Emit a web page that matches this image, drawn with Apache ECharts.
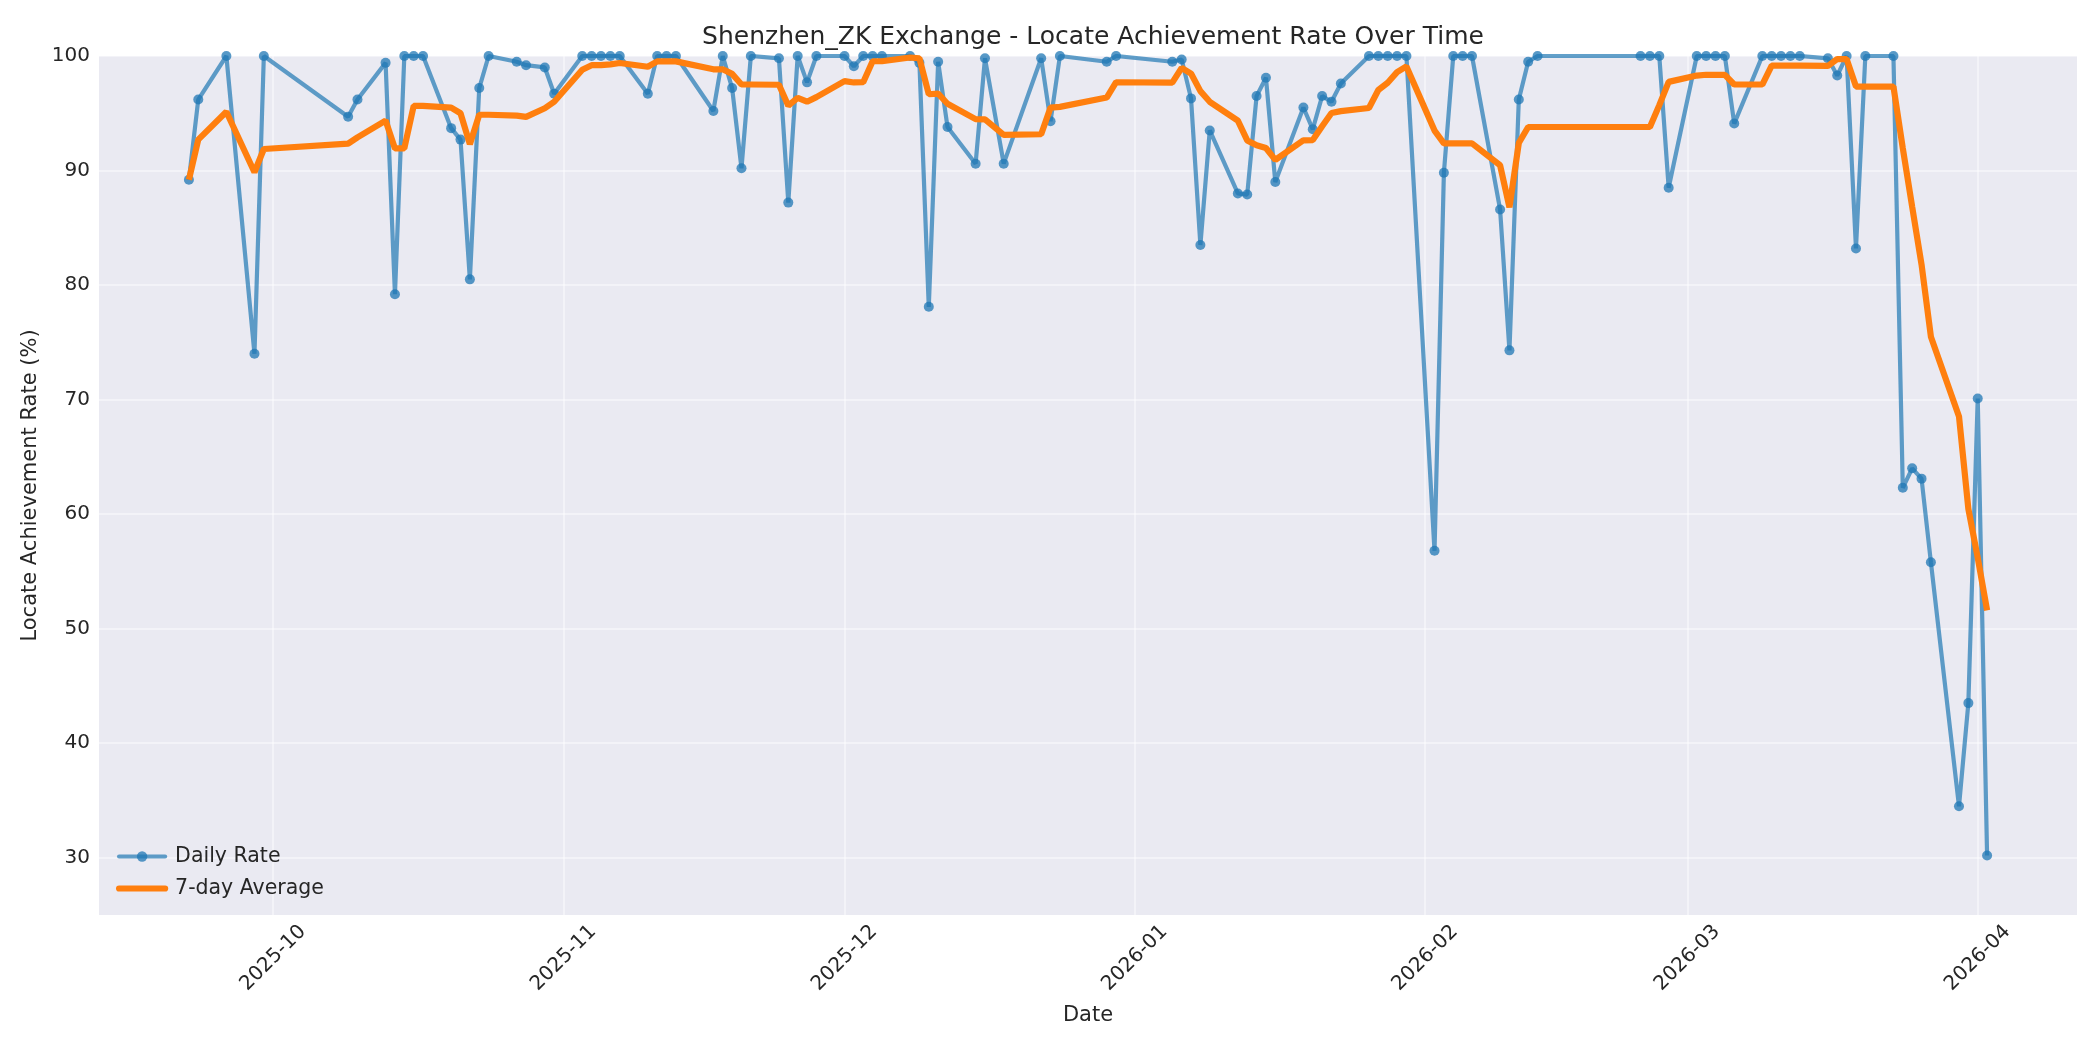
<!DOCTYPE html>
<html>
<head>
<meta charset="utf-8">
<title>Shenzhen_ZK Exchange - Locate Achievement Rate Over Time</title>
<script src="https://cdn.jsdelivr.net/npm/echarts@6/dist/echarts.min.js"></script>
<style>
  html, body { margin: 0; padding: 0; background: #ffffff; }
  #main { width: 2100px; height: 1050px; }
</style>
</head>
<body>
<div id="main"></div>
<script>
// trading days shown in the chart
const dates = [
  '2025-09-22', '2025-09-23', '2025-09-26', '2025-09-29', '2025-09-30',
  '2025-10-09', '2025-10-10', '2025-10-13', '2025-10-14', '2025-10-15', '2025-10-16', '2025-10-17',
  '2025-10-20', '2025-10-21', '2025-10-22', '2025-10-23', '2025-10-24',
  '2025-10-27', '2025-10-28', '2025-10-30', '2025-10-31',
  '2025-11-03', '2025-11-04', '2025-11-05', '2025-11-06', '2025-11-07',
  '2025-11-10', '2025-11-11', '2025-11-12', '2025-11-13',
  '2025-11-17', '2025-11-18', '2025-11-19', '2025-11-20', '2025-11-21',
  '2025-11-24', '2025-11-25', '2025-11-26', '2025-11-27', '2025-11-28',
  '2025-12-01', '2025-12-02', '2025-12-03', '2025-12-04', '2025-12-05',
  '2025-12-08', '2025-12-09', '2025-12-10', '2025-12-11', '2025-12-12',
  '2025-12-15', '2025-12-16', '2025-12-18',
  '2025-12-22', '2025-12-23', '2025-12-24', '2025-12-29', '2025-12-30',
  '2026-01-05', '2026-01-06', '2026-01-07', '2026-01-08', '2026-01-09',
  '2026-01-12', '2026-01-13', '2026-01-14', '2026-01-15', '2026-01-16',
  '2026-01-19', '2026-01-20', '2026-01-21', '2026-01-22', '2026-01-23',
  '2026-01-26', '2026-01-27', '2026-01-28', '2026-01-29', '2026-01-30',
  '2026-02-02', '2026-02-03', '2026-02-04', '2026-02-05', '2026-02-06',
  '2026-02-09', '2026-02-10', '2026-02-11', '2026-02-12', '2026-02-13',
  '2026-02-24', '2026-02-25', '2026-02-26', '2026-02-27',
  '2026-03-02', '2026-03-03', '2026-03-04', '2026-03-05', '2026-03-06',
  '2026-03-09', '2026-03-10', '2026-03-11', '2026-03-12', '2026-03-13',
  '2026-03-16', '2026-03-17', '2026-03-18', '2026-03-19', '2026-03-20',
  '2026-03-23', '2026-03-24', '2026-03-25', '2026-03-26', '2026-03-27',
  '2026-03-30', '2026-03-31', '2026-04-01', '2026-04-02'
];

// daily locate achievement rate (%)
const dailyRate = [
  89.2, 96.2, 100, 74.0, 100,
  94.7, 96.2, 99.4, 79.2, 100, 100, 100,
  93.7, 92.7, 80.5, 97.2, 100,
  99.5, 99.2, 99.0, 96.7,
  100, 100, 100, 100, 100,
  96.7, 100, 100, 100,
  95.2, 100, 97.2, 90.2, 100,
  99.8, 87.2, 100, 97.7, 100,
  100, 99.1, 100, 100, 100,
  100, 99.4, 78.1, 99.5, 93.8,
  90.6, 99.8, 90.6,
  99.8, 94.3, 100, 99.5, 100,
  99.5, 99.7, 96.3, 83.5, 93.5,
  88.0, 87.9, 96.5, 98.1, 89.0,
  95.5, 93.6, 96.5, 96.0, 97.6,
  100, 100, 100, 100, 100,
  56.8, 89.8, 100, 100, 100,
  86.6, 74.3, 96.2, 99.5, 100,
  100, 100, 100, 88.5,
  100, 100, 100, 100, 94.1,
  100, 100, 100, 100, 100,
  99.8, 98.3, 100, 83.2, 100,
  100, 62.3, 64.0, 63.1, 55.8,
  34.5, 43.5, 70.1, 30.2
];

// 7-day average as drawn (%)
const avg7 = [
  89.2, 92.7, 95.13, 89.85, 91.88,
  92.35, 92.9, 94.36, 91.93, 91.93, 95.64, 95.64,
  95.5, 95.0, 92.3, 94.87, 94.87,
  94.8, 94.69, 95.44, 96.01,
  98.8, 99.2, 99.2, 99.27, 99.39,
  99.06, 99.53, 99.53, 99.53,
  98.84, 98.84, 98.44, 97.51, 97.51,
  97.49, 95.66, 96.34, 96.01, 96.41,
  97.81, 97.69, 97.71, 99.54, 99.54,
  99.87, 99.79, 96.66, 96.71, 95.83,
  94.49, 94.46, 93.11,
  93.17, 95.49, 95.56, 96.37, 97.71,
  97.67, 98.97, 98.47, 96.93, 96.0,
  94.36, 92.63, 92.2, 91.97, 90.93,
  92.64, 92.66, 93.87, 95.03, 95.19,
  95.46, 97.03, 97.67, 98.59, 99.09,
  93.49, 92.37, 92.37, 92.37, 92.37,
  90.46, 86.79, 92.41, 93.8, 93.8,
  93.8, 93.8, 95.71, 97.74,
  98.29, 98.36, 98.36, 98.36, 97.51,
  97.51, 99.16, 99.16, 99.16, 99.16,
  99.13, 99.73, 99.73, 97.33, 97.33,
  97.33, 91.94, 86.83, 81.8, 75.49,
  68.53, 60.46, 56.19, 51.6
];

const monthTicks = ['2025-10-01', '2025-11-01', '2025-12-01', '2026-01-01', '2026-02-01', '2026-03-01', '2026-04-01'];
const yTicks = [30, 40, 50, 60, 70, 80, 90, 100];
const xRange = ['2025-09-12 09:36', '2026-04-11 14:24'];

const textColor = '#262626';
const fontFamily = 'DejaVu Sans';
const gridColor = 'rgba(255, 255, 255, 0.45)';

const toTime = d => echarts.number.parseDate(d).getTime();
const monthValues = monthTicks.map(toTime);

const chart = echarts.init(document.getElementById('main'));
chart.setOption({
  backgroundColor: '#ffffff',
  animation: false,
  textStyle: { fontFamily: fontFamily, color: textColor },
  title: {
    text: 'Shenzhen_ZK Exchange - Locate Achievement Rate Over Time',
    left: 1088,
    top: 20,
    textAlign: 'center',
    textStyle: { fontFamily: fontFamily, fontSize: 25, fontWeight: 'normal', color: textColor }
  },
  grid: {
    left: 99, right: 23, top: 56, bottom: 135,
    show: true, backgroundColor: '#EAEAF2', borderWidth: 0
  },
  legend: {
    orient: 'vertical',
    left: 111,
    top: 841,
    itemWidth: 46,
    itemHeight: 13,
    itemGap: 11,
    textStyle: { fontFamily: fontFamily, fontSize: 20.5, color: textColor, padding: [0, 0, 0, 5] },
    data: [
      { name: 'Daily Rate', lineStyle: { width: 4.2, cap: 'round', opacity: 0.7 }, itemStyle: { opacity: 0.75 } },
      { name: '7-day Average', lineStyle: { width: 6.2, cap: 'round' }, itemStyle: { opacity: 0 } }
    ]
  },
  xAxis: {
    type: 'value',
    min: toTime(xRange[0]),
    max: toTime(xRange[1]),
    name: 'Date',
    nameLocation: 'middle',
    nameGap: 90,
    nameTextStyle: { fontFamily: fontFamily, fontSize: 21, color: textColor },
    axisLine: { show: false },
    axisTick: { show: false, customValues: monthValues },
    axisLabel: {
      customValues: monthValues,
      rotate: 45,
      align: 'center',
      verticalAlign: 'middle',
      margin: 43,
      fontFamily: fontFamily,
      fontSize: 20,
      color: textColor,
      formatter: v => echarts.time.format(v, '{yyyy}-{MM}', false)
    },
    splitLine: { show: true, lineStyle: { color: gridColor, width: 2 } }
  },
  yAxis: {
    type: 'value',
    min: 25,
    max: 100,
    name: 'Locate Achievement Rate (%)',
    nameLocation: 'middle',
    nameGap: 53,
    nameTextStyle: { fontFamily: fontFamily, fontSize: 21, color: textColor },
    axisLine: { show: false },
    axisTick: { show: false, customValues: yTicks },
    axisLabel: {
      customValues: yTicks,
      margin: 9,
      fontFamily: fontFamily,
      fontSize: 20,
      color: textColor
    },
    splitLine: { show: true, lineStyle: { color: gridColor, width: 2 } }
  },
  series: [
    {
      name: 'Daily Rate',
      type: 'line',
      data: dates.map((d, i) => [toTime(d), dailyRate[i]]),
      symbol: 'circle',
      symbolSize: 10,
      showAllSymbol: true,
      color: '#1f77b4',
      lineStyle: { width: 4.2, color: '#1f77b4', opacity: 0.7 },
      itemStyle: { color: '#1f77b4', opacity: 0.75 },
      z: 2
    },
    {
      name: '7-day Average',
      type: 'line',
      data: dates.map((d, i) => [toTime(d), avg7[i]]),
      symbol: 'none',
      color: '#ff7f0e',
      lineStyle: { width: 6.2, color: '#ff7f0e' },
      z: 3
    }
  ]
});
</script>
</body>
</html>
